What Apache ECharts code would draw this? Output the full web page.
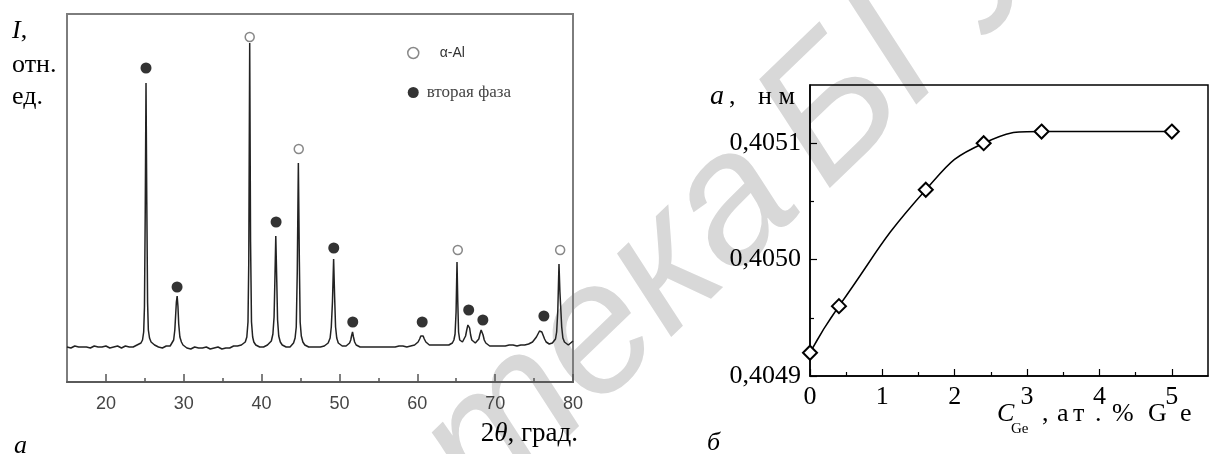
<!DOCTYPE html>
<html>
<head>
<meta charset="utf-8">
<script src="https://cdn.jsdelivr.net/npm/echarts@6/dist/echarts.min.js"></script>
<style>
  html, body { margin: 0; padding: 0; background: #fff; }
  #chart { width: 1216px; height: 454px; }
</style>
</head>
<body>
<div id="chart"></div>
<script>
  // панель а: дифрактограмма, [2θ, I отн. ед.]
  const xrdProfile = [
    [15.0,35],[15.25,36],[15.5,34],[15.75,35],[16.0,36],[16.25,34],[16.5,35],[16.75,36],[17.0,35],[17.25,33],
    [17.5,35],[17.75,36],[18.0,34],[18.25,35],[18.5,36],[18.75,34],[19.0,35],[19.25,36],[19.5,35],[19.75,34],
    [20.0,36],[20.25,35],[20.5,34],[20.75,36],[21.0,35],[21.25,34],[21.5,36],[21.75,35],[22.0,34],[22.25,35],
    [22.5,36],[22.75,34],[23.0,35],[23.25,36],[23.5,35],[23.75,36],[24.0,37],[24.25,37],[24.5,39],[24.7,42],
    [24.85,50],[24.95,75],[25.05,170],[25.15,299],[25.25,180],[25.35,80],[25.45,52],[25.6,44],[25.8,40],[26.0,38],
    [26.25,37],[26.5,36],[26.75,35],[27.0,36],[27.25,34],[27.5,35],[27.75,36],[28.0,35],[28.25,36],[28.5,38],
    [28.7,42],[28.85,52],[28.95,66],[29.05,80],[29.15,86],[29.25,76],[29.35,58],[29.5,45],[29.7,40],[29.9,37],
    [30.15,35],[30.4,34],[30.65,35],[30.9,33],[31.15,34],[31.4,35],[31.65,33],[31.9,34],[32.15,35],[32.4,34],
    [32.65,33],[32.9,35],[33.15,34],[33.4,33],[33.65,35],[33.9,34],[34.15,33],[34.4,35],[34.65,34],[34.9,33],
    [35.15,35],[35.4,34],[35.65,35],[35.9,34],[36.15,35],[36.4,36],[36.65,35],[36.9,36],[37.15,36],[37.4,37],
    [37.65,38],[37.9,40],[38.1,45],[38.25,60],[38.35,120],[38.47,339],[38.58,140],[38.7,60],[38.85,45],[39.0,40],
    [39.25,37],[39.5,36],[39.75,35],[40.0,36],[40.25,35],[40.5,36],[40.75,37],[41.0,38],[41.25,41],[41.45,48],
    [41.6,65],[41.7,100],[41.82,146],[41.95,100],[42.05,62],[42.2,46],[42.4,40],[42.65,37],[42.9,36],[43.15,35],
    [43.4,36],[43.65,35],[43.9,37],[44.1,39],[44.3,44],[44.45,55],[44.58,110],[44.72,219],[44.85,120],[44.95,60],
    [45.1,46],[45.3,40],[45.55,37],[45.8,36],[46.05,35],[46.3,36],[46.55,35],[46.8,36],[47.05,35],[47.3,36],
    [47.55,35],[47.8,36],[48.05,36],[48.3,37],[48.55,39],[48.8,44],[48.95,55],[49.1,80],[49.25,123],[49.38,85],
    [49.5,55],[49.65,44],[49.85,39],[50.1,37],[50.35,36],[50.6,37],[50.85,36],[51.1,37],[51.3,39],[51.45,42],
    [51.55,46],[51.68,50],[51.8,45],[51.95,40],[52.15,37],[52.4,36],[52.65,35],[52.9,36],[53.15,35],[53.4,36],
    [53.65,35],[53.9,36],[54.15,35],[54.4,36],[54.65,35],[54.9,36],[55.15,35],[55.4,36],[55.65,35],[55.9,36],
    [56.15,35],[56.4,36],[56.65,35],[56.9,36],[57.15,35],[57.4,36],[57.65,36],[57.9,35],[58.15,36],[58.4,36],
    [58.65,35],[58.9,36],[59.15,36],[59.4,37],[59.65,37],[59.9,38],[60.1,40],[60.3,43],[60.45,46],[60.6,48],
    [60.75,46],[60.9,43],[61.1,40],[61.3,38],[61.55,37],[61.8,36],[62.05,37],[62.3,36],[62.55,37],[62.8,36],
    [63.05,37],[63.3,36],[63.55,37],[63.8,37],[64.05,37],[64.3,38],[64.5,39],[64.7,42],[64.85,48],[64.98,70],
    [65.1,120],[65.2,80],[65.3,50],[65.45,42],[65.6,40],[65.8,40],[66.0,42],[66.2,46],[66.35,52],[66.5,57],
    [66.6,58],[66.72,54],[66.85,47],[67.0,42],[67.2,40],[67.45,39],[67.7,40],[67.9,43],[68.05,48],[68.2,52],
    [68.32,51],[68.45,47],[68.6,42],[68.8,39],[69.05,37],[69.3,36],[69.55,37],[69.8,36],[70.05,37],[70.3,36],
    [70.55,37],[70.8,36],[71.05,37],[71.3,36],[71.55,37],[71.8,37],[72.05,36],[72.3,37],[72.55,37],[72.8,36],
    [73.05,37],[73.3,37],[73.55,38],[73.8,37],[74.05,38],[74.3,38],[74.55,39],[74.8,40],[75.05,42],[75.3,45],
    [75.5,48],[75.7,51],[75.85,52],[76.0,50],[76.15,47],[76.35,43],[76.55,40],[76.75,39],[76.95,38],[77.15,38],
    [77.35,39],[77.55,40],[77.75,43],[77.9,50],[78.05,72],[78.2,118],[78.32,90],[78.42,88],[78.55,55],[78.7,44],
    [78.9,40],[79.15,38],[79.4,37],[79.65,38],[79.85,40],[80.0,41]
  ];
  // метки над пиками
  const alPeaks = [[38.47, 345], [44.77, 233], [65.2, 132], [78.35, 132]];
  const phasePeaks = [[25.15, 314], [29.14, 95], [41.86, 160], [49.27, 134], [51.71, 60],
                      [60.63, 60], [66.6, 72], [68.42, 62], [76.26, 66]];
  const xrdMajorTicks = [20, 30, 40, 50, 60, 70, 80];
  const xrdMinorTicks = [25, 35, 45, 55, 65, 75];

  // панель б: период решетки от содержания Ge
  const geContent = [0, 0.4, 1.6, 2.4, 3.2, 5.0];
  const latticeParam = [0.40492, 0.40496, 0.40506, 0.40510, 0.40511, 0.40511];
  const geMajorTicks = [0, 1, 2, 3, 4, 5];
  const geMinorTicks = [0.5, 1.5, 2.5, 3.5, 4.5];
  const aMajorTicks = [0.4049, 0.4050, 0.4051];
  const aMinorTicks = [0.40495, 0.40505];

  const serif = '"Liberation Serif", "Times New Roman", serif';
  const sans = '"Liberation Sans", Arial, sans-serif';

  function txt(x, y, text, size, opt) {
    opt = opt || {};
    return {
      type: 'text', x: x, y: y, z: 10,
      style: {
        text: text,
        font: (opt.italic ? 'italic ' : '') + size + 'px ' + (opt.family || serif),
        fill: opt.color || '#000',
        textAlign: opt.align || 'left',
        textVerticalAlign: 'middle',
        rich: opt.rich
      }
    };
  }

  let myChart = echarts.init(document.getElementById('chart'));

  let wmFont = 'italic 185px ' + sans;
  let wmRot = 44 * Math.PI / 180;

  let option = {
    animation: false,
    backgroundColor: '#fff',
    grid: [
      {left: 67, top: 14, width: 506, height: 368, show: true, borderColor: '#7d7d7d', borderWidth: 2},
      {left: 810, top: 85, width: 398, height: 291, show: true, borderColor: '#000', borderWidth: 1.5}
    ],
    legend: {
      left: 402, top: 41, orient: 'vertical', itemWidth: 11, itemHeight: 11, itemGap: 24,
      selectedMode: false,
      data: [
        {name: 'α-Al', icon: 'circle', itemStyle: {color: '#fff', borderColor: '#6a6a6a', borderWidth: 1.5}},
        {name: 'вторая фаза', icon: 'circle', itemStyle: {color: '#000'}}
      ],
      formatter: function (name) {
        return name === 'α-Al' ? '{al|α-Al}' : '{ph|вторая фаза}';
      },
      textStyle: {
        rich: {
          al: {fontFamily: sans, fontSize: 14, color: '#333', padding: [0, 0, 0, 16]},
          ph: {fontFamily: serif, fontSize: 17, color: '#444', padding: [0, 0, 0, 3]}
        }
      }
    },
    xAxis: [
      {
        gridIndex: 0, type: 'value', min: 15, max: 80, position: 'bottom',
        axisLine: {show: true, onZero: false, lineStyle: {color: '#5a5a5a', width: 2}},
        axisTick: {show: true, inside: true, length: 8, customValues: xrdMajorTicks, lineStyle: {color: '#555', width: 1.5}},
        axisLabel: {customValues: xrdMajorTicks, margin: 13, fontSize: 18, color: '#444', fontFamily: sans},
        splitLine: {show: false}
      },
      {
        gridIndex: 0, type: 'value', min: 15, max: 80, position: 'bottom',
        axisLine: {show: false},
        axisTick: {show: true, inside: true, length: 4, customValues: xrdMinorTicks, lineStyle: {color: '#555', width: 1.5}},
        axisLabel: {show: false},
        splitLine: {show: false}
      },
      {
        gridIndex: 1, type: 'value', min: 0, max: 5.5, position: 'bottom',
        axisLine: {show: true, onZero: false, lineStyle: {color: '#000', width: 1.5}},
        axisTick: {show: true, inside: true, length: 7, customValues: geMajorTicks, lineStyle: {color: '#000', width: 1.2}},
        axisLabel: {customValues: geMajorTicks, margin: 8, fontSize: 26, color: '#000', fontFamily: serif},
        splitLine: {show: false}
      },
      {
        gridIndex: 1, type: 'value', min: 0, max: 5.5, position: 'bottom',
        axisLine: {show: false},
        axisTick: {show: true, inside: true, length: 4, customValues: geMinorTicks, lineStyle: {color: '#000', width: 1.2}},
        axisLabel: {show: false},
        splitLine: {show: false}
      }
    ],
    yAxis: [
      {
        gridIndex: 0, type: 'value', min: 0, max: 368, position: 'left',
        axisLine: {show: false}, axisTick: {show: false}, axisLabel: {show: false}, splitLine: {show: false}
      },
      {
        gridIndex: 1, type: 'value', min: 0.4049, max: 0.40515, position: 'left',
        axisLine: {show: true, onZero: false, lineStyle: {color: '#000', width: 1.5}},
        axisTick: {show: true, inside: true, length: 7, customValues: aMajorTicks, lineStyle: {color: '#000', width: 1.2}},
        axisLabel: {
          customValues: aMajorTicks, margin: 9, fontSize: 26, color: '#000', fontFamily: serif,
          formatter: function (v) { return v.toFixed(4).replace('.', ','); }
        },
        splitLine: {show: false}
      },
      {
        gridIndex: 1, type: 'value', min: 0.4049, max: 0.40515, position: 'left',
        axisLine: {show: false},
        axisTick: {show: true, inside: true, length: 4, customValues: aMinorTicks, lineStyle: {color: '#000', width: 1.2}},
        axisLabel: {show: false},
        splitLine: {show: false}
      }
    ],
    series: [
      {
        name: 'xrd', type: 'line', xAxisIndex: 0, yAxisIndex: 0, data: xrdProfile,
        symbol: 'none', lineStyle: {color: '#222', width: 1.5}
      },
      {
        name: 'α-Al', type: 'scatter', xAxisIndex: 0, yAxisIndex: 0, data: alPeaks,
        symbol: 'circle', symbolSize: 9, itemStyle: {color: '#fff', borderColor: '#6a6a6a', borderWidth: 1.5}
      },
      {
        name: 'вторая фаза', type: 'scatter', xAxisIndex: 0, yAxisIndex: 0, data: phasePeaks,
        symbol: 'circle', symbolSize: 11, itemStyle: {color: '#000'}
      },
      {
        name: 'a', type: 'line', xAxisIndex: 2, yAxisIndex: 1,
        data: geContent.map(function (c, i) { return [c, latticeParam[i]]; }),
        smooth: 0.5,
        symbol: 'diamond', symbolSize: 14, showAllSymbol: true,
        itemStyle: {color: '#fff', borderColor: '#000', borderWidth: 2},
        lineStyle: {color: '#000', width: 1.5}
      }
    ],
    graphic: [
      // водяной знак
      {type: 'text', x: 770, y: 170, rotation: wmRot, z: -10, silent: true,
        style: {text: 'Библиотека', font: wmFont, fill: '#d8d8d8', textAlign: 'right', textVerticalAlign: 'middle'}},
      {type: 'text', x: 790, y: 155, rotation: wmRot, z: -10, silent: true,
        style: {text: 'БГУИР', font: wmFont, fill: '#d8d8d8', textAlign: 'left', textVerticalAlign: 'middle'}},
      // подписи панели а
      txt(12, 31, '{i|I},', 26, {rich: {i: {fontStyle: 'italic', fontFamily: serif, fontSize: 26}}}),
      txt(12, 65, 'отн.', 26),
      txt(12, 97, 'ед.', 26),
      txt(578, 434, '2{i|θ}, град.', 27, {align: 'right', rich: {i: {fontStyle: 'italic', fontFamily: serif, fontSize: 27}}}),
      txt(14, 446, 'а', 26, {italic: true}),
      // подписи панели б
      txt(710, 97, 'a', 28, {italic: true}),
      txt(729, 97, ',', 26),
      txt(758, 97, 'н м', 26),
      txt(707, 443, 'б', 26, {italic: true}),
      txt(997, 414, 'C', 26, {italic: true}),
      txt(1011, 429, 'Ge', 15),
      txt(1042, 414, ',', 26),
      txt(1057, 414, 'а', 26),
      txt(1073, 414, 'т', 26),
      txt(1095, 414, '.', 26),
      txt(1112, 414, '%', 26),
      txt(1148, 414, 'G', 26),
      txt(1180, 414, 'e', 26)
    ]
  };
  myChart.setOption(option);
</script>
</body>
</html>
